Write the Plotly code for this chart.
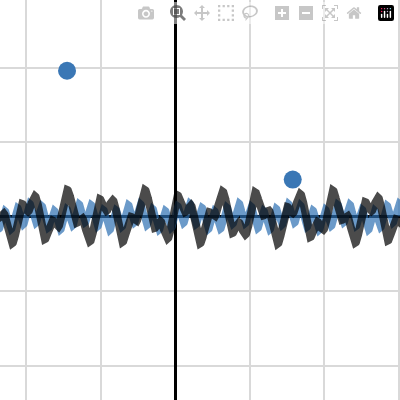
import numpy as np
import plotly.graph_objects as go

# sample points of the two curves
xs = np.linspace(-2.4, 3.1, 6000)
black_y = 0.22 * np.sin(12.3 * xs + 0.4) + 0.14 * np.sin(30.0 * xs + 1.0)
blue_y = 0.13 * np.sin(38.0 * xs + 0.3) + 0.05 * np.sin(9.0 * xs)

point_x = [-1.45, 1.58]
point_y = [1.96, 0.5]

fig = go.Figure()
fig.add_trace(go.Scatter(x=xs, y=blue_y, mode="lines",
                         line=dict(color="#2d70b3", width=7), opacity=0.7))
fig.add_trace(go.Scatter(x=xs, y=black_y, mode="lines",
                         line=dict(color="#000000", width=8), opacity=0.7))
fig.add_trace(go.Scatter(x=point_x, y=point_y, mode="markers",
                         marker=dict(color="#3a77b5", size=18)))

ax = dict(showticklabels=False, gridcolor="#d9d9d9", gridwidth=1.5, dtick=1,
          zeroline=True, zerolinecolor="black", zerolinewidth=3, showline=False)
fig.update_xaxes(range=[-2.35, 3.02], **ax)
fig.update_yaxes(range=[-2.46, 2.91], **ax)
fig.update_layout(width=400, height=400, margin=dict(l=0, r=0, t=0, b=0),
                  plot_bgcolor="white", paper_bgcolor="white", showlegend=False)
fig.write_html("out.html", post_script="document.body.style.margin='0';")
